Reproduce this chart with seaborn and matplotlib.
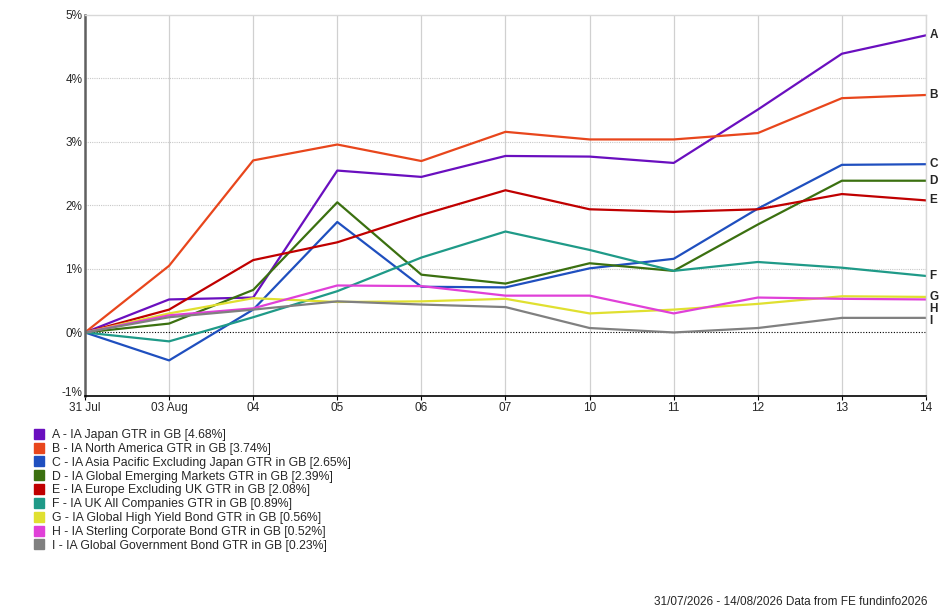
import numpy as np
import pandas as pd
import seaborn as sns
import matplotlib.pyplot as plt
from matplotlib.lines import Line2D
from matplotlib.ticker import FuncFormatter

#------------------------------------------------------------------------------#
# Cumulative returns (%), 31 Jul - 14 Aug 2026
#------------------------------------------------------------------------------#

dates = ['31 Jul', '03 Aug', '04', '05', '06', '07', '10', '11', '12', '13', '14']

letters = ['A', 'B', 'C', 'D', 'E', 'F', 'G', 'H', 'I']
names = ['IA Japan GTR in GB [4.68%]',
         'IA North America GTR in GB [3.74%]',
         'IA Asia Pacific Excluding Japan GTR in GB [2.65%]',
         'IA Global Emerging Markets GTR in GB [2.39%]',
         'IA Europe Excluding UK GTR in GB [2.08%]',
         'IA UK All Companies GTR in GB [0.89%]',
         'IA Global High Yield Bond GTR in GB [0.56%]',
         'IA Sterling Corporate Bond GTR in GB [0.52%]',
         'IA Global Government Bond GTR in GB [0.23%]']

japan      = [0, 0.52, 0.55, 2.55, 2.45, 2.78, 2.77, 2.67, 3.51, 4.39, 4.68]
n_america  = [0, 1.05, 2.71, 2.96, 2.70, 3.16, 3.04, 3.04, 3.14, 3.69, 3.74]
asia_pac   = [0, -0.44, 0.36, 1.74, 0.72, 0.71, 1.01, 1.16, 1.95, 2.64, 2.65]
emerging   = [0, 0.14, 0.67, 2.05, 0.91, 0.77, 1.09, 0.97, 1.70, 2.39, 2.39]
europe     = [0, 0.36, 1.14, 1.42, 1.85, 2.24, 1.94, 1.90, 1.94, 2.18, 2.08]
uk_all     = [0, -0.14, 0.24, 0.65, 1.18, 1.59, 1.30, 0.97, 1.11, 1.02, 0.89]
high_yield = [0, 0.30, 0.54, 0.48, 0.49, 0.53, 0.30, 0.36, 0.45, 0.57, 0.56]
sterling   = [0, 0.27, 0.38, 0.74, 0.73, 0.58, 0.58, 0.30, 0.55, 0.53, 0.52]
global_gov = [0, 0.24, 0.36, 0.49, 0.44, 0.40, 0.07, 0.00, 0.07, 0.23, 0.23]

colors = ['#6a0fbf', '#e8461c', '#1f4fbf', '#3b7010', '#c00000',
          '#1f9a88', '#e0e030', '#e040d8', '#808080']

#------------------------------------------------------------------------------#

def main():
    series = [japan, n_america, asia_pac, emerging, europe,
              uk_all, high_yield, sterling, global_gov]

    rows = []
    for letter, vals in zip(letters, series):
        for i, v in enumerate(vals):
            rows.append({'idx': i, 'ret': v, 'fund': letter})
    df = pd.DataFrame(rows)

    sns.set_theme(style='white')
    plt.rcParams['font.family'] = ['Liberation Sans', 'DejaVu Sans']

    fig = plt.figure(figsize=(9.4, 6.12), dpi=100)
    ax = fig.add_axes([0.0904, 0.353, 0.8947, 0.6225])

    sns.lineplot(data=df, x='idx', y='ret', hue='fund', hue_order=letters,
                 palette=colors, linewidth=1.6, legend=False, ax=ax)

    ax.set_xlim(0, len(dates) - 1)
    ax.set_ylim(-1, 5)
    ax.set_xticks(range(len(dates)))
    ax.set_xticklabels(dates, fontsize=8.5)
    ax.set_yticks(range(-1, 6))
    ax.yaxis.set_major_formatter(FuncFormatter(lambda v, p: '%d%%' % v))
    ax.tick_params(axis='y', labelsize=8.5, length=0, pad=2)
    ax.tick_params(axis='x', length=3, width=0.8, color='#000000', pad=1,
                   bottom=True)
    ax.set_xlabel('')
    ax.set_ylabel('')
    # the -1% label sits a little higher than the others
    ax.get_yticklabels()[0].set_va('baseline')

    # grid: solid vertical, dotted horizontal
    for i in range(len(dates)):
        ax.axvline(i, color='#d0d0d0', lw=0.9, zorder=0)
    for v in range(1, 5):
        ax.axhline(v, color='#c8c8c8', lw=0.8, ls=(0, (1, 1)), zorder=0)
    ax.axhline(0, color='#000000', lw=0.8, ls=(0, (1, 1.5)), zorder=0)

    for side in ['top', 'right']:
        ax.spines[side].set_color('#d8d8d8')
        ax.spines[side].set_linewidth(1.0)
    ax.spines['left'].set_color('#606060')
    ax.spines['left'].set_linewidth(1.8)
    ax.spines['bottom'].set_color('#000000')
    ax.spines['bottom'].set_linewidth(1.2)

    # end-of-line letters, spread so they don't collide
    last = len(dates) - 1
    prev = None
    for letter, vals in zip(letters, series):
        y = vals[-1]
        if prev is not None and prev - y < 0.19:
            y = prev - 0.19
        prev = y
        ax.text(last + 0.04, y, letter, fontsize=8.5, fontweight='bold',
                va='center', ha='left', clip_on=False)

    # legend below chart
    handles = [Line2D([], [], marker='s', ls='', color=c, markersize=6.5)
               for c in colors]
    labels = ['%s - %s' % (l, n) for l, n in zip(letters, names)]
    fig.legend(handles, labels, loc='upper left',
               bbox_to_anchor=(0.036, 0.299), frameon=False, fontsize=8.8,
               handlelength=0.8, handletextpad=0.7, labelspacing=0.15,
               borderaxespad=0, borderpad=0)

    fig.text(0.987, 0.006, '31/07/2026 - 14/08/2026 Data from FE fundinfo2026',
             ha='right', va='bottom', fontsize=8.5)

    fig.savefig('out.png', dpi=100, facecolor='white')

if __name__ == '__main__':
    main()
